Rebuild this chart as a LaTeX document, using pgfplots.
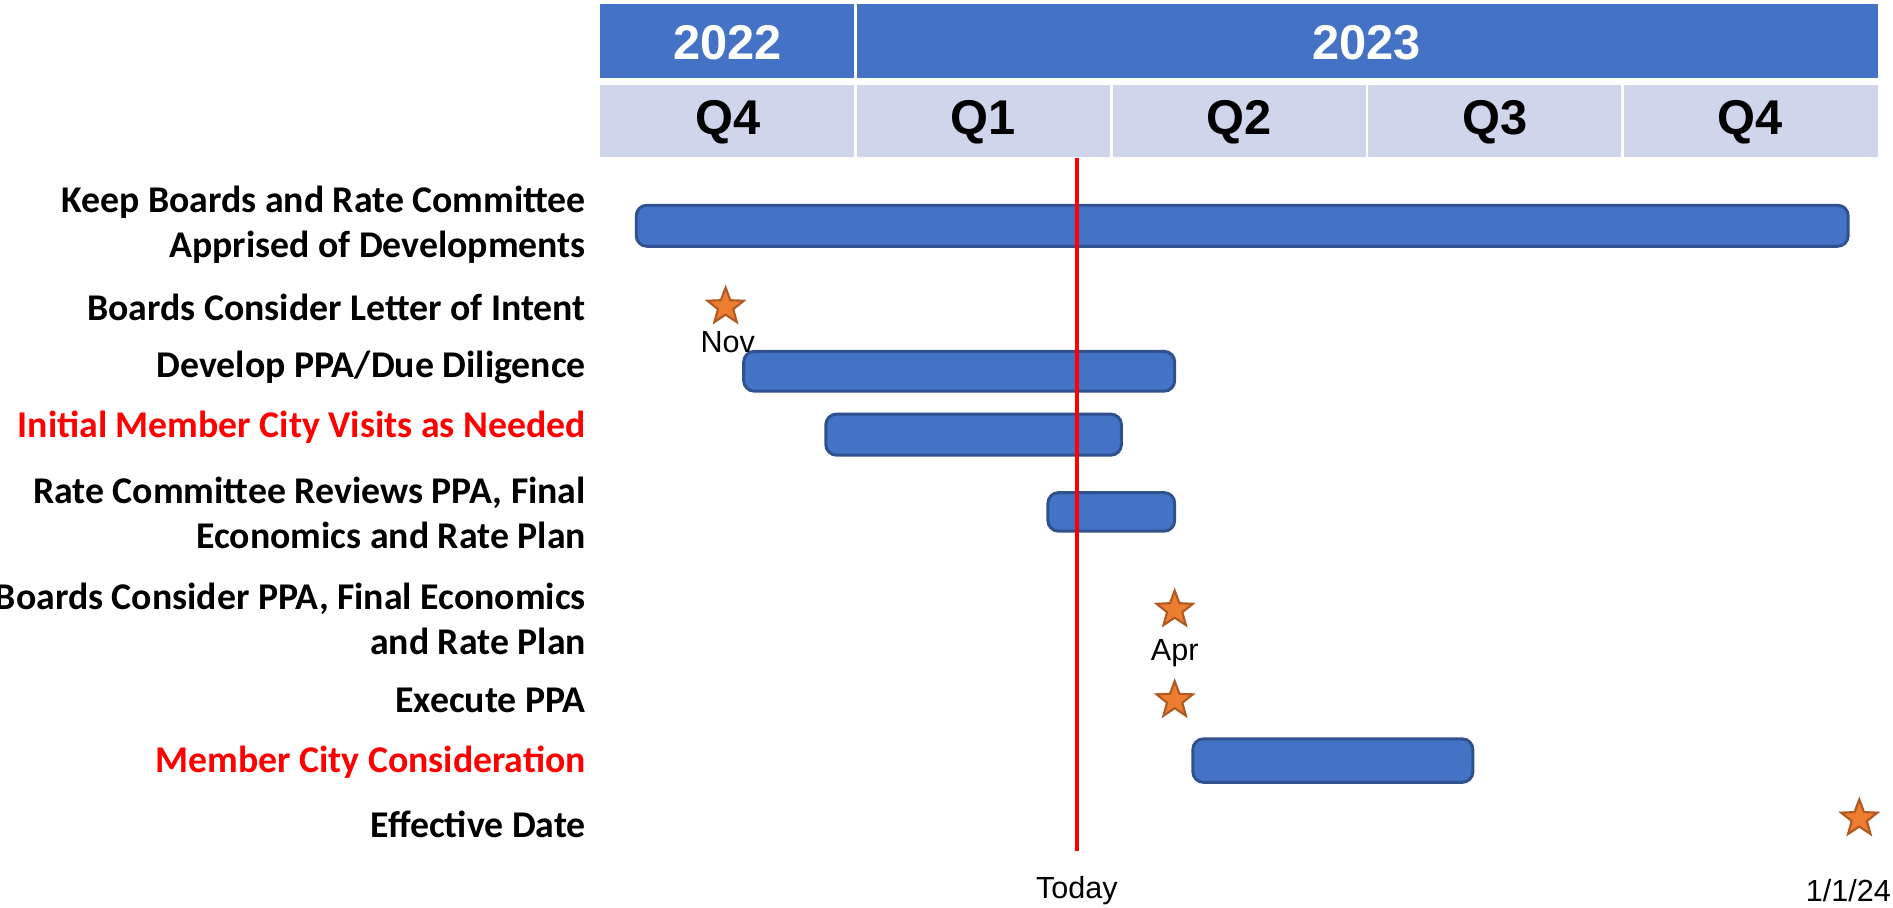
\documentclass[border=0pt]{standalone}
\usepackage{pgfplots}
\pgfplotsset{compat=1.18}
\usepackage{fontspec}
\setmainfont{Carlito}
\newfontfamily\arial{Liberation Sans}
\definecolor{barblue}{HTML}{4472C4}
\definecolor{baredge}{HTML}{2F528F}
\definecolor{qfill}{HTML}{CFD5EA}
\definecolor{starfill}{HTML}{ED7D31}
\definecolor{staredge}{HTML}{AE5A21}
\pgfdeclareplotmark{fstar}{%
 \pgfpathmoveto{\pgfpointpolar{90}{\pgfplotmarksize}}%
 \pgfpathlineto{\pgfpointpolar{126}{0.42\pgfplotmarksize}}%
 \pgfpathlineto{\pgfpointpolar{162}{\pgfplotmarksize}}%
 \pgfpathlineto{\pgfpointpolar{198}{0.42\pgfplotmarksize}}%
 \pgfpathlineto{\pgfpointpolar{234}{\pgfplotmarksize}}%
 \pgfpathlineto{\pgfpointpolar{270}{0.42\pgfplotmarksize}}%
 \pgfpathlineto{\pgfpointpolar{306}{\pgfplotmarksize}}%
 \pgfpathlineto{\pgfpointpolar{342}{0.42\pgfplotmarksize}}%
 \pgfpathlineto{\pgfpointpolar{18}{\pgfplotmarksize}}%
 \pgfpathlineto{\pgfpointpolar{54}{0.42\pgfplotmarksize}}%
 \pgfpathclose
 \pgfusepathqfillstroke}
\tikzset{
  lbl/.style={anchor=east, align=right, inner sep=0pt, font={\fontsize{8.9}{10.6}\selectfont\bfseries}},
  hdr/.style={font={\arial\fontsize{11.5}{13}\selectfont\bfseries}},
  sml/.style={font={\arial\fontsize{7.2}{8.6}\selectfont}}
}
\begin{document}
\begin{tikzpicture}
\begin{axis}[name=ax, width=15.68cm, height=7.52cm, scale only axis,
  xmin=-7.0426, xmax=15.176, ymin=0, ymax=752, y dir=reverse,
  axis lines=none, clip=false]
% header
\fill[barblue] (axis cs:0,3) rectangle (axis cs:2.985,65);
\fill[barblue] (axis cs:3.015,3) rectangle (axis cs:15,65);
\fill[qfill] (axis cs:0,70) rectangle (axis cs:2.985,130);
\fill[qfill] (axis cs:3.015,70) rectangle (axis cs:5.985,130);
\fill[qfill] (axis cs:6.015,70) rectangle (axis cs:8.985,130);
\fill[qfill] (axis cs:9.015,70) rectangle (axis cs:11.985,130);
\fill[qfill] (axis cs:12.015,70) rectangle (axis cs:15,130);
\node[hdr, text=white] at (axis cs:1.5,35) {2022};
\node[hdr, text=white] at (axis cs:9.0,35) {2023};
\node[hdr] at (axis cs:1.5,101) {Q4};
\node[hdr] at (axis cs:4.5,101) {Q1};
\node[hdr] at (axis cs:7.5,101) {Q2};
\node[hdr] at (axis cs:10.5,101) {Q3};
\node[hdr] at (axis cs:13.5,101) {Q4};
% task bars
\addplot[fill=barblue, draw=baredge, line width=0.7pt, rounded corners=2.5pt] coordinates {(0.425,170) (14.65,170) (14.65,204) (0.425,204)} -- cycle;
\addplot[fill=barblue, draw=baredge, line width=0.7pt, rounded corners=2.5pt] coordinates {(1.686,291) (6.745,291) (6.745,324) (1.686,324)} -- cycle;
\addplot[fill=barblue, draw=baredge, line width=0.7pt, rounded corners=2.5pt] coordinates {(2.65,343) (6.12,343) (6.12,377) (2.65,377)} -- cycle;
\addplot[fill=barblue, draw=baredge, line width=0.7pt, rounded corners=2.5pt] coordinates {(5.257,408) (6.745,408) (6.745,440) (5.257,440)} -- cycle;
\addplot[fill=barblue, draw=baredge, line width=0.7pt, rounded corners=2.5pt] coordinates {(6.958,612) (10.245,612) (10.245,648) (6.958,648)} -- cycle;
% milestones
\addplot[only marks, mark=fstar, mark size=4.5pt, mark options={fill=starfill, draw=staredge, line width=0.5pt}] coordinates {(1.474,254) (6.745,505) (6.745,580) (14.78,678)};
% today line
\addplot[red, line width=1pt] coordinates {(5.597,131) (5.597,705)};
% annotations
\node[sml] at (axis cs:1.50,283) {Nov};
\node[sml] at (axis cs:6.745,541) {Apr};
\node[sml] at (axis cs:5.597,738) {Today};
\node[sml, anchor=east, inner sep=0pt] at (axis cs:15.16,738) {1/1/24};
% row labels
\node[lbl] at (axis cs:-0.156,186) {Keep Boards and Rate Committee\\Apprised of Developments};
\node[lbl] at (axis cs:-0.156,255) {Boards Consider Letter of Intent};
\node[lbl] at (axis cs:-0.156,304) {Develop PPA/Due Diligence};
\node[lbl, text=red] at (axis cs:-0.156,354) {Initial Member City Visits as Needed};
\node[lbl] at (axis cs:-0.156,425) {Rate Committee Reviews PPA, Final\\Economics and Rate Plan};
\node[lbl] at (axis cs:-0.156,513) {Boards Consider PPA, Final Economics\\and Rate Plan};
\node[lbl] at (axis cs:-0.156,580) {Execute PPA};
\node[lbl, text=red] at (axis cs:-0.156,631) {Member City Consideration};
\node[lbl] at (axis cs:-0.156,683) {Effective Date};
\end{axis}
\pgfresetboundingbox
\path[use as bounding box] (ax.south west) rectangle (ax.north east);
\end{tikzpicture}
\end{document}
